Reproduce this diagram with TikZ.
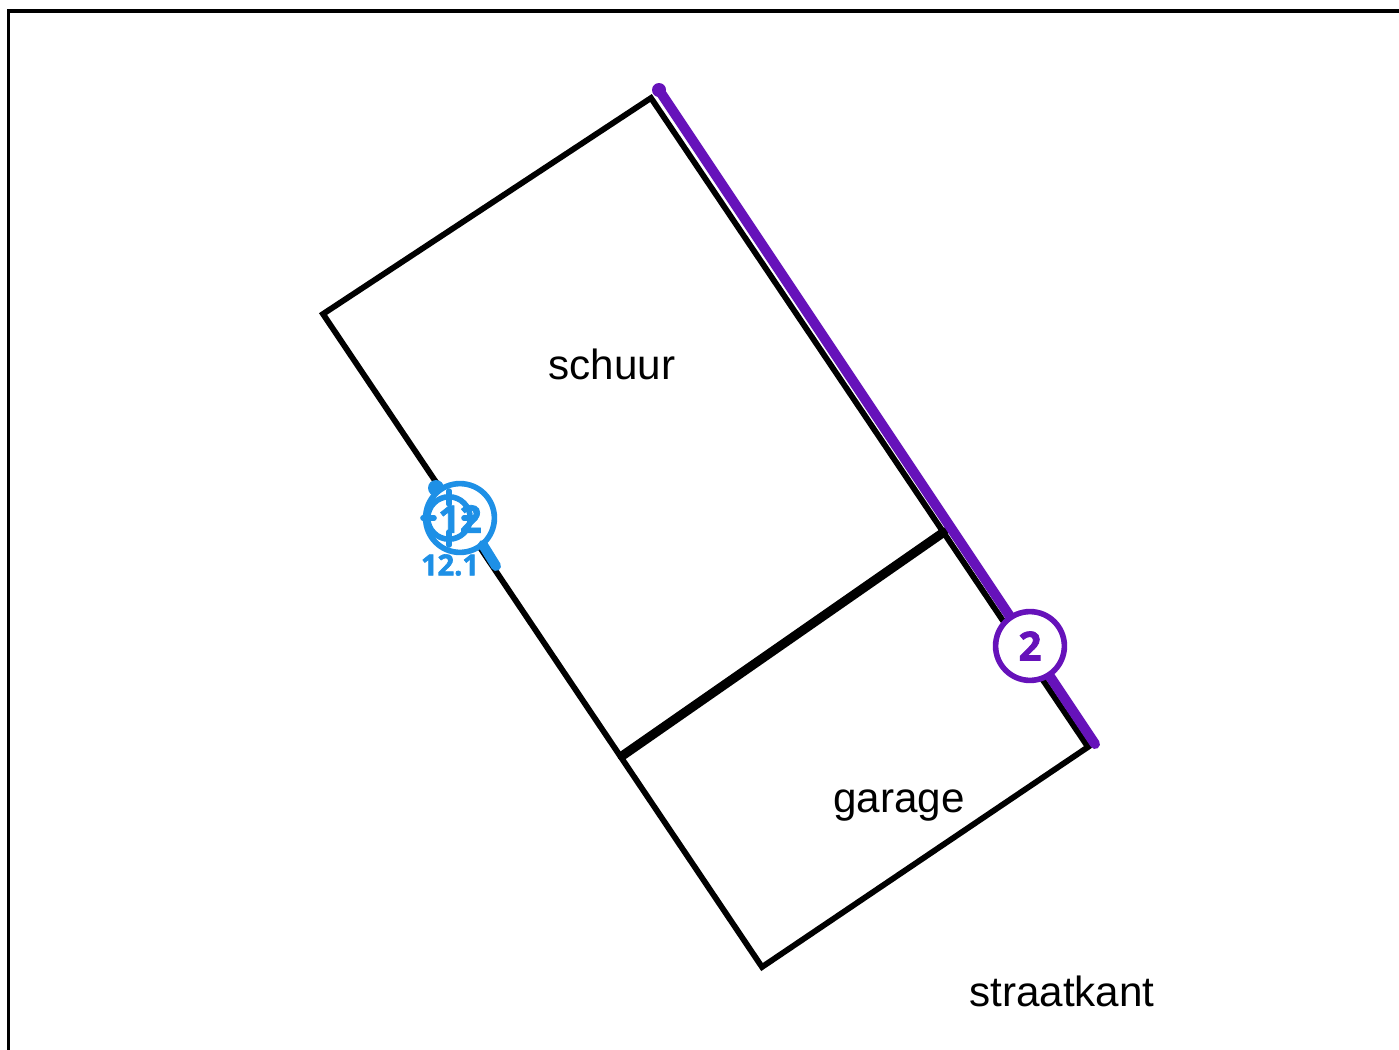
\documentclass[tikz,border=0pt]{standalone}
\usepackage{fontspec}
\setmainfont{Liberation Sans}
\newfontfamily\markfont[BoldFeatures={FakeBold=2}]{Open Sans}
\usetikzlibrary{positioning}
\definecolor{markblue}{RGB}{30,144,230}
\definecolor{markpurple}{RGB}{102,18,186}
\tikzset{
    wall/.style={draw=black, line width=2.9pt, line join=miter},
    room/.style={font=\fontsize{21.1}{25}\selectfont, inner sep=0pt},
    markline/.style={line width=5pt, line cap=round},
    crosstick/.style={markblue, line width=2.8pt, line cap=round},
    marktext/.style={font=\markfont\bfseries\fontsize{20}{24}\selectfont, inner sep=0pt},
}
\begin{document}
\begin{tikzpicture}[x=0.5pt, y=-0.5pt]
    \useasboundingbox (0,0) rectangle (1399,1050);

    % Frame
    \coordinate (frametop) at (1399,11);
    \coordinate (framecorner) at (8.5,11);
    \coordinate (framebottom) at (8.5,1050);
    \draw[black, line width=1.8pt] (frametop) -- (framecorner) -- (framebottom);

    % Outline of the building
    \coordinate (nw) at (323,314);
    \coordinate (ne) at (651,98);
    \coordinate (se) at (1088,747);
    \coordinate (sw) at (762,967);
    \coordinate (wallw) at (622,756);
    \coordinate (walle) at (944,532);
    \draw[wall] (nw) -- (ne) -- (se) -- (sw) -- cycle;
    \draw[wall, line width=4.6pt, line cap=round] (wallw) -- (walle);

    % Rooms
    \node[room] at (612,364) (schuur) {schuur};
    \node[room] at (899,806) (garage) {garage};
    \node[room] at (1062,991) (straatkant) {straatkant};

    % Purple side with its number
    \node[circle, fill=markpurple, inner sep=0pt, minimum size=7pt] at (659,90) (purplestart) {};
    \coordinate (purpleend) at (1095,744);
    \draw[markpurple, markline] (purplestart.center) -- (purpleend);
    \node[circle, draw=markpurple, fill=white, line width=2.8pt, inner sep=0pt, minimum size=34.4pt] at (1030,646) (purplering) {};
    \node[marktext, text=markpurple] at (purplering) (purplenum) {2};

    % Blue marker, everything on top of each other
    \node[circle, fill=markblue, inner sep=0pt, minimum size=8pt] at (436,488) (bluedot) {};
    \node[circle, draw=markblue, fill=white, line width=2.8pt, inner sep=0pt, minimum size=34.4pt] at (460,518) (bluering) {};
    \coordinate (bluehandle) at (496,566);
    \draw[markblue, markline] (bluering) ++(23,27) -- (bluehandle);
    \node[circle, draw=markblue, line width=2.8pt, inner sep=0pt, minimum size=21.2pt] at (449,518) (bluecross) {};
    \draw[crosstick] (bluecross.north) ++(0,-3) -- ++(0,13);
    \draw[crosstick] (bluecross.south) ++(0,3) -- ++(0,-13);
    \draw[crosstick] (bluecross.west) ++(-2,0) -- ++(11,0);
    \draw[crosstick] (bluecross.east) ++(2,0) -- ++(-11,0);
    \node[marktext, text=markblue, font=\markfont\bfseries\fontsize{19}{22}\selectfont] at (460,519) (bluenum) {12};
    \node[marktext, text=markblue, font=\markfont\bfseries\fontsize{14.5}{18}\selectfont] at (450,565) (bluelabel) {12.1};
\end{tikzpicture}
\end{document}
